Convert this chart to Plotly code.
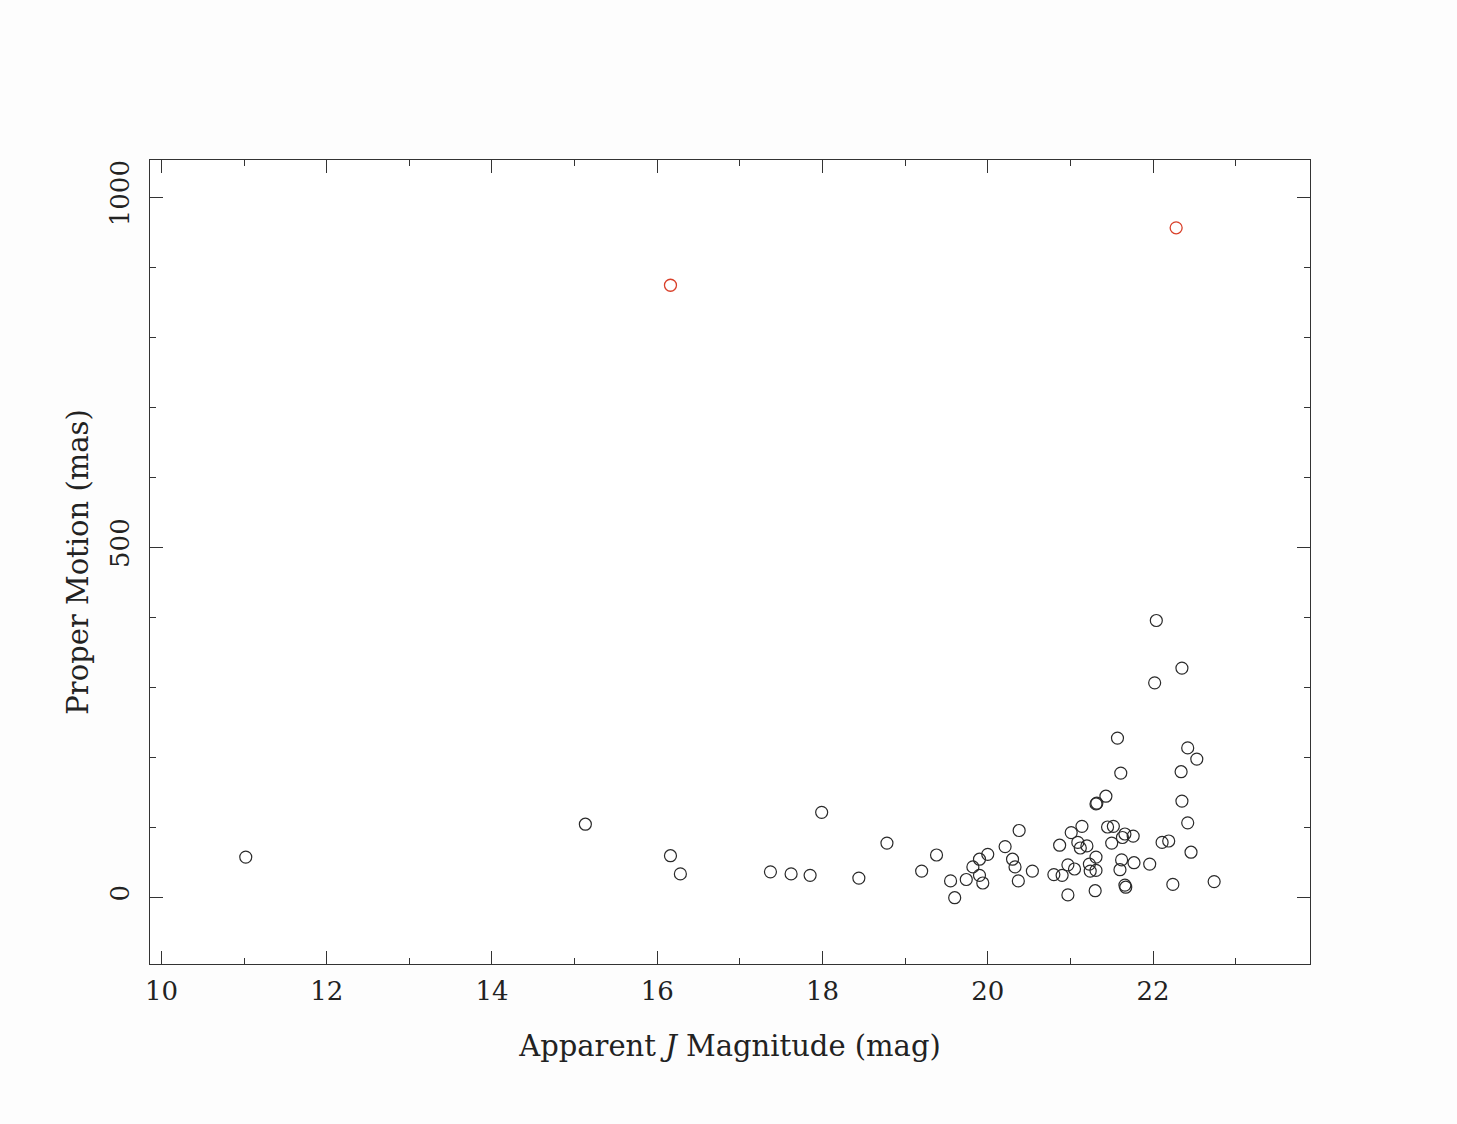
import plotly.graph_objects as go

# Apparent J magnitude (mag) and proper motion (mas)
j_mag = [11.02, 15.13, 16.16, 16.28, 17.37, 17.62, 17.85, 17.99, 18.44, 18.78,
         22.04, 22.35, 22.02, 21.57, 22.42, 22.53, 21.61, 22.34, 21.43, 21.32,
         21.31, 22.35, 22.42, 20.38, 21.14, 21.01, 21.45, 21.52, 21.66, 21.76,
         21.63, 21.50, 20.87, 21.09, 21.20, 21.12, 20.21, 20.00, 19.38, 22.11,
         22.19, 22.46, 21.31, 19.90, 20.30, 21.62, 21.77, 21.96, 19.82, 20.33,
         20.97, 21.23, 19.20, 20.54, 21.05, 20.80, 20.90, 21.24, 21.31, 21.60,
         19.90, 19.55, 19.74, 19.94, 20.37, 21.66, 21.67, 22.24, 22.74, 19.60,
         20.97, 21.30]
proper_motion = [57, 104, 59, 33, 36, 33, 31, 121, 27, 77,
                 395, 327, 306, 227, 213, 197, 177, 179, 144, 134,
                 133, 137, 106, 95, 101, 92, 100, 101, 90, 87,
                 85, 77, 74, 78, 73, 70, 72, 61, 60, 78,
                 80, 64, 57, 54, 54, 53, 49, 47, 43, 43,
                 46, 47, 37, 37, 40, 32, 31, 37, 38, 39,
                 31, 23, 25, 20, 23, 17, 14, 18, 22, -1,
                 3, 9]

# Highlighted (red) objects
red_j = [16.16, 22.28]
red_pm = [874, 956]

font_family = "DejaVu Serif, Liberation Serif, serif"

fig = go.Figure()
fig.add_trace(go.Scatter(
    x=j_mag, y=proper_motion, mode="markers",
    marker=dict(symbol="circle-open", size=12, color="#2a2a2a",
                line=dict(width=1.2, color="#2a2a2a")),
    showlegend=False, hoverinfo="x+y"))
fig.add_trace(go.Scatter(
    x=red_j, y=red_pm, mode="markers",
    marker=dict(symbol="circle-open", size=12, color="#d9402a",
                line=dict(width=1.3, color="#d9402a")),
    showlegend=False, hoverinfo="x+y"))

axis_common = dict(
    showline=True, linecolor="#333333", linewidth=1, mirror="ticks",
    ticks="inside", tickcolor="#333333", tickwidth=1, ticklen=13,
    showgrid=False, zeroline=False,
    tickfont=dict(family=font_family, size=26, color="#222222"),
)

fig.update_xaxes(
    range=[9.861, 23.90], tickmode="linear", tick0=10, dtick=2,
    ticklabelstandoff=4,
    minor=dict(dtick=1, ticks="inside", ticklen=6, tickcolor="#333333"),
    title=dict(text="Apparent <i>J</i> Magnitude (mag)",
               font=dict(family=font_family, size=29, color="#222222"), standoff=30),
    **axis_common)
fig.update_yaxes(
    range=[-95.7, 1052.9], tickmode="linear", tick0=0, dtick=500,
    tickangle=-90, ticklabelstandoff=10,
    minor=dict(dtick=100, ticks="inside", ticklen=6, tickcolor="#333333"),
    title=dict(text="Proper Motion (mas)",
               font=dict(family=font_family, size=29, color="#222222"), standoff=7),
    **axis_common)

fig.update_layout(
    width=1457, height=1124,
    margin=dict(l=150, r=147, t=160, b=160),
    paper_bgcolor="#fdfdfd", plot_bgcolor="#ffffff",
)

fig.write_html("out.html")
